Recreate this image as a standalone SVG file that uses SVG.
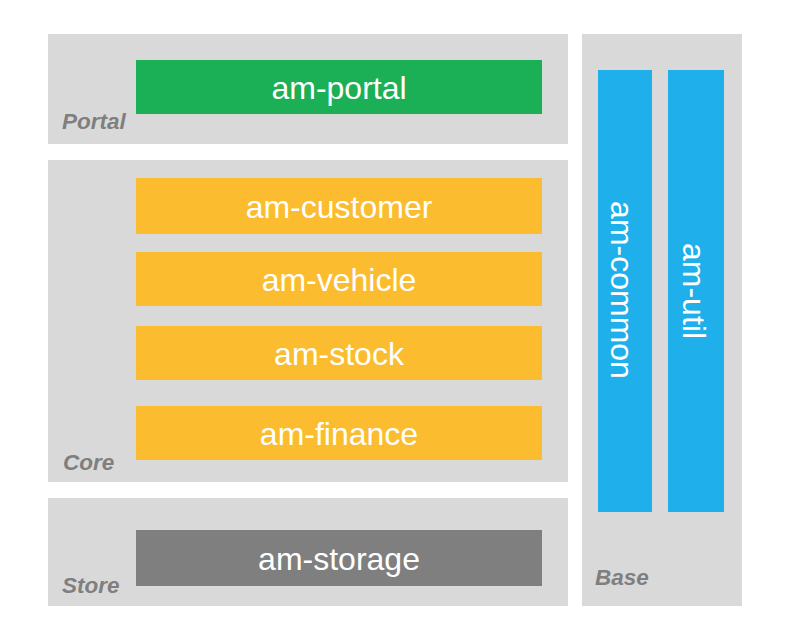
<svg xmlns="http://www.w3.org/2000/svg" width="786" height="644" viewBox="0 0 786 644">
<style>
.panel{fill:#d9d9d9}
.lbl{font-family:"Liberation Sans",Arial,sans-serif;font-style:italic;font-weight:bold;font-size:22.5px;fill:#7f7f7f}
.t{font-family:"Liberation Sans",Arial,sans-serif;font-size:32px;fill:#ffffff;text-anchor:middle}
.g{fill:#1bb055}.o{fill:#fbbd2f}.b{fill:#1fb0ec}.s{fill:#7f7f7f}
</style>
<rect width="786" height="644" fill="#ffffff"/>
<g id="portal-layer">
<rect class="panel" x="48" y="34" width="520" height="110"/>
<text class="lbl" x="62" y="129">Portal</text>
</g>
<g id="core-layer">
<rect class="panel" x="48" y="160" width="520" height="322"/>
<text class="lbl" x="63" y="470">Core</text>
</g>
<g id="store-layer">
<rect class="panel" x="48" y="498" width="520" height="108"/>
<text class="lbl" x="62" y="593">Store</text>
</g>
<g id="base-layer">
<rect class="panel" x="582" y="34" width="160" height="572"/>
<text class="lbl" x="595" y="585">Base</text>
</g>
<g id="am-portal">
<rect class="g" x="136" y="60" width="406" height="54"/>
<text class="t" x="339" y="99">am-portal</text>
</g>
<g id="am-customer">
<rect class="o" x="136" y="178" width="406" height="56"/>
<text class="t" x="339" y="218">am-customer</text>
</g>
<g id="am-vehicle">
<rect class="o" x="136" y="252" width="406" height="54"/>
<text class="t" x="339" y="291">am-vehicle</text>
</g>
<g id="am-stock">
<rect class="o" x="136" y="326" width="406" height="54"/>
<text class="t" x="339" y="365">am-stock</text>
</g>
<g id="am-finance">
<rect class="o" x="136" y="406" width="406" height="54"/>
<text class="t" x="339" y="445">am-finance</text>
</g>
<g id="am-storage">
<rect class="s" x="136" y="530" width="406" height="56"/>
<text class="t" x="339" y="570">am-storage</text>
</g>
<g id="am-common">
<rect class="b" x="598" y="70" width="54" height="442"/>
<text class="t" transform="translate(611,290) rotate(90)">am-common</text>
</g>
<g id="am-util">
<rect class="b" x="668" y="70" width="56" height="442"/>
<text class="t" transform="translate(683,291) rotate(90)">am-util</text>
</g>
<g id="connectors"></g>
</svg>
